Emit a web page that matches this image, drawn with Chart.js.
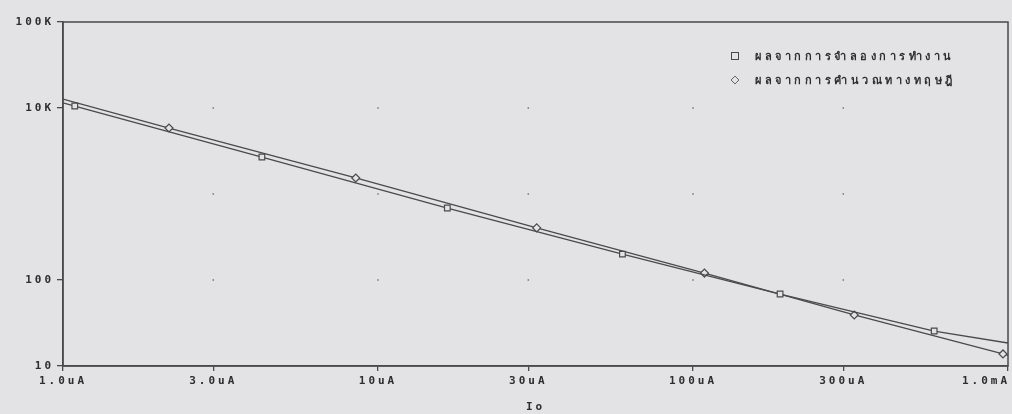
<!DOCTYPE html>
<html>
<head>
<meta charset="utf-8">
<script src="https://cdn.jsdelivr.net/npm/chart.js@4"></script>
<style>
  html, body { margin: 0; padding: 0; background: #e3e3e5; }
  #wrap { position: relative; width: 1012px; height: 414px; }
  #legend { position: absolute; left: 731px; top: 44px; font: bold 11px "DejaVu Sans Mono", monospace; color: #2e2e2e; letter-spacing: 3.5px; }
  #legend div { height: 24px; display: flex; align-items: center; }
  #legend .mk { width: 8px; height: 8px; border: 1.4px solid #4a4a4a; margin-right: 16px; box-sizing: border-box; }
  #legend .dia { transform: rotate(45deg) scale(0.8); }
</style>
</head>
<body>
<div id="wrap">
  <canvas id="chart" width="1012" height="414"></canvas>
  <div id="legend"></div>
</div>
<script>
// x in uA, y in ohm (log-log)
const seriesNames = ["ผลจากการจำลองการทำงาน", "ผลจากการคำนวณทางทฤษฎี"];
const simX = [1, 1.09, 4.28, 16.6, 59.7, 189, 583, 1000];
const simY = [11500, 10540, 2690, 687, 200, 68.7, 25.5, 18.5];
const theoryX = [1, 2.17, 8.5, 31.9, 108.7, 325, 964, 1000];
const theoryY = [12700, 5850, 1535, 403, 120.5, 39.2, 13.8, 13.3];
const xTicks = [1, 3, 10, 30, 100, 300, 1000];
const xTickLabels = ["1.0uA", "3.0uA", "10uA", "30uA", "100uA", "300uA", "1.0mA"];
const yTicks = [10, 100, 1000, 10000, 100000];
const yTickLabels = ["10", "100", "", "10K", "100K"];

const bg = "#e3e3e5";
const ink = "#4a4a4a";
const textInk = "#2e2e2e";
const font = { family: "'DejaVu Sans Mono', monospace", size: 11, weight: "bold" };

function pts(xs, ys) {
  return xs.map((x, i) => ({ x: x, y: ys[i] }));
}
// markers everywhere except the two line ends
function markerRadius(n) {
  return Array.from({ length: n }, (_, i) => (i === 0 || i === n - 1) ? 0 : 4);
}

const framePlugin = {
  id: "frame",
  beforeDraw(chart) {
    chart.ctx.letterSpacing = "3px";
    // last x label is pulled inside the canvas, like the original plot
    const items = chart.scales.x.getLabelItems();
    const last = items[items.length - 1];
    if (last && !last._moved) {
      last.options.translation[0] = chart.width - 26;
      last._moved = true;
    }
  },
  afterDatasetsDraw(chart) {
    const { ctx, chartArea: a, scales } = chart;
    ctx.save();
    ctx.strokeStyle = ink;
    ctx.lineWidth = 1.5;
    ctx.strokeRect(a.left, a.top, a.right - a.left, a.bottom - a.top);
    // dotted grid at tick crossings
    ctx.fillStyle = "#777";
    xTicks.slice(1, -1).forEach(xv => {
      yTicks.slice(1, -1).forEach(yv => {
        const px = scales.x.getPixelForValue(xv);
        const py = scales.y.getPixelForValue(yv);
        ctx.fillRect(px - 0.75, py - 0.75, 1.5, 1.5);
      });
    });
    ctx.restore();
  }
};

new Chart(document.getElementById("chart"), {
  type: "line",
  data: {
    datasets: [
      {
        label: seriesNames[0],
        data: pts(simX, simY),
        borderColor: ink,
        borderWidth: 1.3,
        pointStyle: "rect",
        pointRadius: markerRadius(simX.length),
        pointBorderColor: ink,
        pointBorderWidth: 1.2,
        pointBackgroundColor: bg,
        tension: 0
      },
      {
        label: seriesNames[1],
        data: pts(theoryX, theoryY),
        borderColor: ink,
        borderWidth: 1.3,
        pointStyle: "rectRot",
        pointRadius: markerRadius(theoryX.length),
        pointBorderColor: ink,
        pointBorderWidth: 1.2,
        pointBackgroundColor: bg,
        tension: 0
      }
    ]
  },
  options: {
    responsive: false,
    animation: false,
    layout: { padding: { top: 22, right: 4, left: 0, bottom: 0 } },
    plugins: {
      legend: { display: false },
      tooltip: { enabled: false }
    },
    scales: {
      x: {
        type: "logarithmic",
        min: 1,
        max: 1000,
        afterBuildTicks: s => { s.ticks = xTicks.map(v => ({ value: v })); },
        afterFit: s => { s.height = 48; s.paddingRight = 0; s.paddingLeft = 0; },
        ticks: {
          autoSkip: false,
          maxRotation: 0,
          padding: 4,
          color: textInk,
          font: font,
          callback: (v) => xTickLabels[xTicks.indexOf(v)]
        },
        grid: { drawOnChartArea: false, tickLength: 5, color: ink, lineWidth: 1.3 },
        border: { color: ink, width: 1.5 },
        title: { display: true, text: "Io", color: textInk, font: font, padding: { top: 3, bottom: 0 } }
      },
      y: {
        type: "logarithmic",
        min: 10,
        max: 100000,
        afterBuildTicks: s => { s.ticks = yTicks.map(v => ({ value: v })); },
        afterFit: s => { s.width = 63; },
        ticks: {
          autoSkip: false,
          padding: 3,
          color: textInk,
          font: font,
          callback: (v) => yTickLabels[yTicks.indexOf(v)]
        },
        grid: {
          drawOnChartArea: false,
          tickLength: 6,
          lineWidth: 1.3,
          color: ctx => (ctx.tick && ctx.tick.value === 1000) ? "rgba(0,0,0,0)" : ink
        },
        border: { color: ink, width: 1.5 }
      }
    }
  },
  plugins: [framePlugin]
});

// legend inside the plot, top right
const legendEl = document.getElementById("legend");
seriesNames.forEach((name, i) => {
  const row = document.createElement("div");
  const mk = document.createElement("span");
  mk.className = "mk" + (i === 1 ? " dia" : "");
  const txt = document.createElement("span");
  txt.textContent = name;
  row.appendChild(mk);
  row.appendChild(txt);
  legendEl.appendChild(row);
});
</script>
</body>
</html>
